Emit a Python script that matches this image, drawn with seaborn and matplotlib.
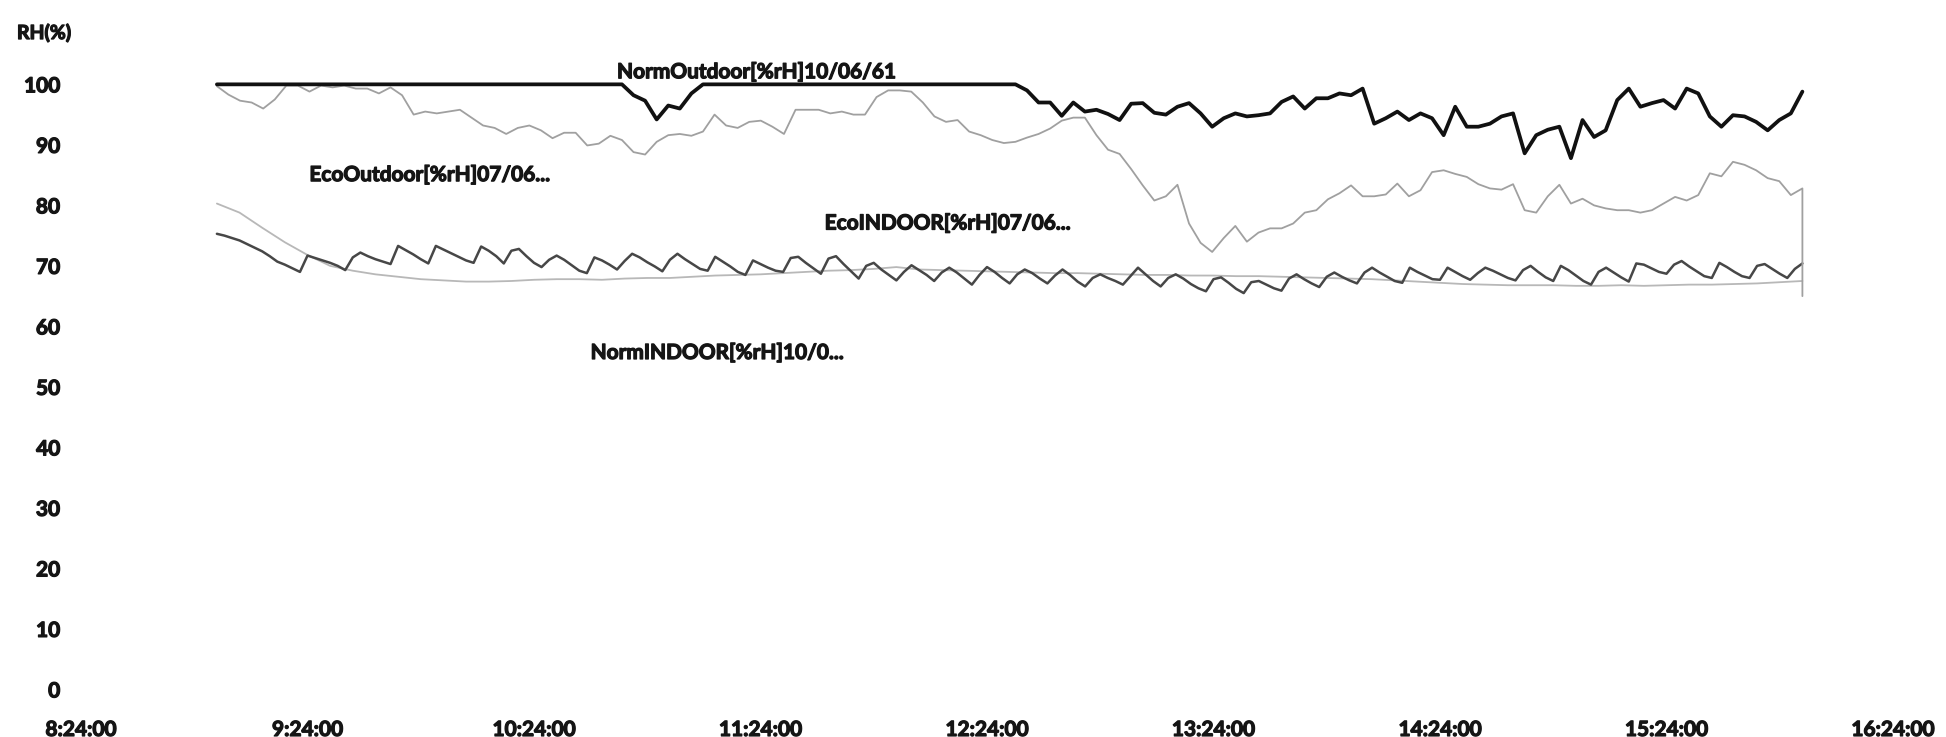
import numpy as np
import pandas as pd
import matplotlib
matplotlib.use("Agg")
import matplotlib.pyplot as plt
import matplotlib.patheffects as pe
import seaborn as sns

# Time axis is expressed in minutes after 08:24:00
T_START = 36   # 09:00 first logger reading
T_END = 456    # 16:00 last logger reading

x_tick_minutes = [0, 60, 120, 180, 240, 300, 360, 420, 480]
x_tick_labels = ["8:24:00", "9:24:00", "10:24:00", "11:24:00", "12:24:00",
                 "13:24:00", "14:24:00", "15:24:00", "16:24:00"]
y_ticks = [0, 10, 20, 30, 40, 50, 60, 70, 80, 90, 100]

# Outdoor humidity, normal mode day (10/06/61), evenly spaced 09:00-16:00
norm_outdoor_rh = [
    100, 100, 100, 100, 100, 100, 100, 100, 100, 100,
    100, 100, 100, 100, 100, 100, 100, 100, 100, 100,
    100, 100, 100, 100, 100, 100, 100, 100, 100, 100,
    100, 100, 100, 100, 100,
    100, 98.2, 97.3, 94.2, 96.5, 96.0, 98.5, 100,
    100, 100, 100, 100, 100, 100, 100, 100, 100, 100,
    100, 100, 100, 100, 100, 100, 100, 100, 100, 100,
    100, 100, 100, 100, 100, 100, 100,
    99.0, 97.0, 97.0, 94.8, 97.0, 95.5, 95.8, 95.1, 94.1, 96.8,
    96.9, 95.3, 95.0,
    96.3, 96.9, 95.2, 93.0, 94.4, 95.2, 94.7, 94.9, 95.2, 97.1,
    98.0, 96.0, 97.7, 97.7, 98.5, 98.2, 99.3, 93.5, 94.4, 95.5,
    94.1, 95.2, 94.4, 91.6, 96.3, 93.0, 93.0, 93.5,
    94.7, 95.2, 88.6, 91.6, 92.5, 93.0, 87.8, 94.1, 91.3, 92.4,
    97.4, 99.3, 96.3, 96.9, 97.4, 96.0, 99.3, 98.5, 94.7, 93.0,
    94.9, 94.7, 93.8, 92.4, 94.1, 95.2, 98.8,
]

# Outdoor humidity, eco mode day (07/06); the final reading is taken at 16:00 indoors
eco_outdoor_rh = [
    99.7, 98.3, 97.3, 97.0, 96.0, 97.5, 99.8, 99.8, 98.8, 99.8,
    99.5, 99.8, 99.3, 99.3, 98.5, 99.5, 98.2, 95.0, 95.5, 95.2,
    95.5, 95.8, 94.5, 93.2, 92.8, 91.8, 92.8, 93.2,
    92.4, 91.1, 92.0, 92.0, 89.9, 90.2, 91.5, 90.8, 88.8, 88.4,
    90.5, 91.6, 91.8, 91.5, 92.2, 95.0, 93.2, 92.8, 93.8, 94.0,
    93.0, 91.8, 95.8, 95.8, 95.8, 95.2, 95.5,
    95.0, 95.0, 97.9, 99.0, 99.0, 98.8, 97.0, 94.7, 93.8, 94.1,
    92.2, 91.6, 90.8, 90.3, 90.5, 91.2, 91.8, 92.7, 94.0, 94.5,
    94.5, 91.6, 89.2, 88.5, 86.0, 83.3, 80.8, 81.5,
    83.4, 77.0, 73.8, 72.3, 74.6, 76.6, 74.0, 75.5, 76.2, 76.2,
    77.0, 78.8, 79.2, 81.0, 82.0, 83.3, 81.5, 81.5, 81.8, 83.6,
    81.5, 82.5, 85.5, 85.8, 85.2, 84.7, 83.5, 82.8,
    82.6, 83.5, 79.2, 78.8, 81.5, 83.4, 80.3, 81.1, 80.0, 79.5,
    79.2, 79.2, 78.8, 79.2, 80.3, 81.4, 80.8, 81.7, 85.3, 84.8,
    87.2, 86.7, 85.8, 84.5, 84.0, 81.7, 82.8,
    65.0,
]

# Indoor humidity, normal mode day: 2-minute readings (compressor cycling)
norm_indoor_rh = [
    75.3, 75.0, 74.6, 74.2, 73.6, 73.0, 72.4, 71.6, 70.7, 70.2,
    69.6, 69.0, 71.7, 71.3, 70.9, 70.5, 70.0, 69.3, 71.4, 72.2,
    71.6, 71.1, 70.7, 70.3, 73.3, 72.6, 71.9, 71.1, 70.4, 73.3,
    72.7, 72.1, 71.5, 70.9, 70.5, 73.2, 72.5, 71.6, 70.4, 72.5,
    72.8, 71.6, 70.5, 69.8, 71.0, 71.7, 71.0, 70.1, 69.2, 68.8,
    71.4, 70.9, 70.2, 69.4, 70.8, 72.0, 71.4, 70.6, 69.9, 69.1,
    71.0, 72.0, 71.1, 70.3, 69.5, 69.2, 71.5, 70.7, 69.9, 69.0,
    68.5, 70.9, 70.3, 69.7, 69.2, 69.0, 71.3, 71.5, 70.5, 69.6,
    68.7, 71.2, 71.6, 70.3, 69.1, 67.9, 70.0, 70.5, 69.4, 68.5,
    67.6, 69.0, 70.1, 69.3, 68.5, 67.5, 68.9, 69.7, 68.9, 67.9,
    66.9, 68.5, 69.8, 69.0, 68.0, 67.1, 68.6, 69.4, 68.8, 67.9,
    67.1, 68.4, 69.4, 68.5, 67.4, 66.6, 68.0, 68.6, 68.0, 67.5,
    66.9, 68.3, 69.7, 68.6, 67.5, 66.6, 68.0, 68.6, 67.9, 67.0,
    66.3, 65.8, 67.8, 68.1, 67.2, 66.2, 65.5, 67.3, 67.5, 66.9,
    66.3, 65.9, 67.9, 68.6, 67.8, 67.1, 66.5, 68.2, 68.9, 68.2,
    67.6, 67.1, 68.9, 69.7, 68.9, 68.2, 67.5, 67.2, 69.7, 69.0,
    68.4, 67.8, 67.7, 69.7, 69.0, 68.3, 67.7, 68.8, 69.7, 69.2,
    68.6, 68.0, 67.6, 69.3, 70.0, 69.0, 68.1, 67.5, 70.0, 69.3,
    68.4, 67.5, 66.9, 69.0, 69.7, 68.9, 68.1, 67.4, 70.4, 70.2,
    69.6, 69.0, 68.7, 70.2, 70.8, 69.9, 69.1, 68.3, 68.0, 70.5,
    69.8, 69.0, 68.3, 68.0, 70.0, 70.3, 69.5, 68.7, 68.0, 69.5,
    70.4,
]

# Indoor humidity, eco mode day: 6-minute readings
eco_indoor_rh = [
    80.3, 78.8, 76.3, 73.9, 71.8, 70.0, 69.2, 68.6, 68.2, 67.8,
    67.6, 67.4, 67.4, 67.5, 67.7, 67.8, 67.8, 67.7, 67.9, 68.0,
    68.0, 68.2, 68.4, 68.5, 68.6, 68.8, 69.0, 69.2, 69.3, 69.5,
    69.8, 69.4, 69.3, 69.2, 69.1, 69.0, 68.9, 68.8, 68.8, 68.7,
    68.6, 68.5, 68.5, 68.4, 68.4, 68.3, 68.3, 68.2, 68.1, 68.0,
    67.9, 67.8, 67.6, 67.4, 67.2, 67.0, 66.9, 66.8, 66.8, 66.8,
    66.7, 66.7, 66.8, 66.7, 66.8, 66.9, 66.9, 67.0, 67.1, 67.3,
    67.5,
]

# Series names written next to the curves: (text, minute, %RH)
series_notes = [
    ("NormOutdoor[%rH]10/06/61", 142, 102.0),
    ("EcoOutdoor[%rH]07/06...", 60.5, 85.0),
    ("EcoINDOOR[%rH]07/06...", 197, 77.0),
    ("NormINDOOR[%rH]10/0...", 135, 55.6),
]

norm_out_t = np.linspace(T_START, T_END, len(norm_outdoor_rh))
eco_out_t = np.append(np.linspace(T_START, T_END, len(eco_outdoor_rh) - 1), T_END)
norm_in_t = T_START + 2 * np.arange(len(norm_indoor_rh))
eco_in_t = T_START + 6 * np.arange(len(eco_indoor_rh))

sns.set_theme(style="white")
plt.rcParams["font.family"] = ["Lato", "DejaVu Sans"]

TEXT_COLOR = "#151515"
TEXT_WEIGHT = "bold"
# a thin outline in the text colour gives the heavy lettering
HEAVY = [pe.withStroke(linewidth=0.9, foreground=TEXT_COLOR)]

W, H = 1946, 737
fig = plt.figure(figsize=(W / 100, H / 100), dpi=100)
x_left, x_right = 81, 1893
y_zero, y_top = 689.4, 54.1
ax = fig.add_axes([x_left / W, 1 - y_zero / H, (x_right - x_left) / W, (y_zero - y_top) / H])

line_specs = [
    (eco_in_t, eco_indoor_rh, "#b8b8b8", 1.3),
    (norm_in_t, norm_indoor_rh, "#474747", 1.8),
    (eco_out_t, eco_outdoor_rh, "#a0a0a0", 1.3),
    (norm_out_t, norm_outdoor_rh, "#111111", 2.7),
]
for t, rh, color, lw in line_specs:
    df = pd.DataFrame({"minute": t, "rh": rh})
    sns.lineplot(data=df, x="minute", y="rh", ax=ax, color=color, linewidth=lw,
                 estimator=None, sort=False, errorbar=None)

for text, mx, val in series_notes:
    ax.text(mx, val, text, fontsize=15, fontweight=TEXT_WEIGHT, color=TEXT_COLOR,
            ha="left", va="center", path_effects=HEAVY)

ax.set_xlim(0, 480)
ax.set_ylim(0, 105)
ax.set_xticks(x_tick_minutes)
ax.set_xticklabels(x_tick_labels)
ax.set_yticks(y_ticks)
ax.set_yticklabels([str(v) for v in y_ticks])
ax.tick_params(axis="x", length=0, pad=22, labelsize=15, colors=TEXT_COLOR)
ax.tick_params(axis="y", length=0, pad=15, labelsize=15, colors=TEXT_COLOR)
for lbl in ax.get_xticklabels() + ax.get_yticklabels():
    lbl.set_fontweight(TEXT_WEIGHT)
    lbl.set_path_effects(HEAVY)
ax.set_xlabel("")
ax.set_ylabel("")
for s in ax.spines.values():
    s.set_visible(False)
ax.grid(False)

fig.text(17 / W, 1 - 33 / H, "RH(%)", fontsize=14, fontweight=TEXT_WEIGHT,
         color=TEXT_COLOR, ha="left", va="center", path_effects=HEAVY)

fig.savefig("out.png", dpi=100, facecolor="white")
